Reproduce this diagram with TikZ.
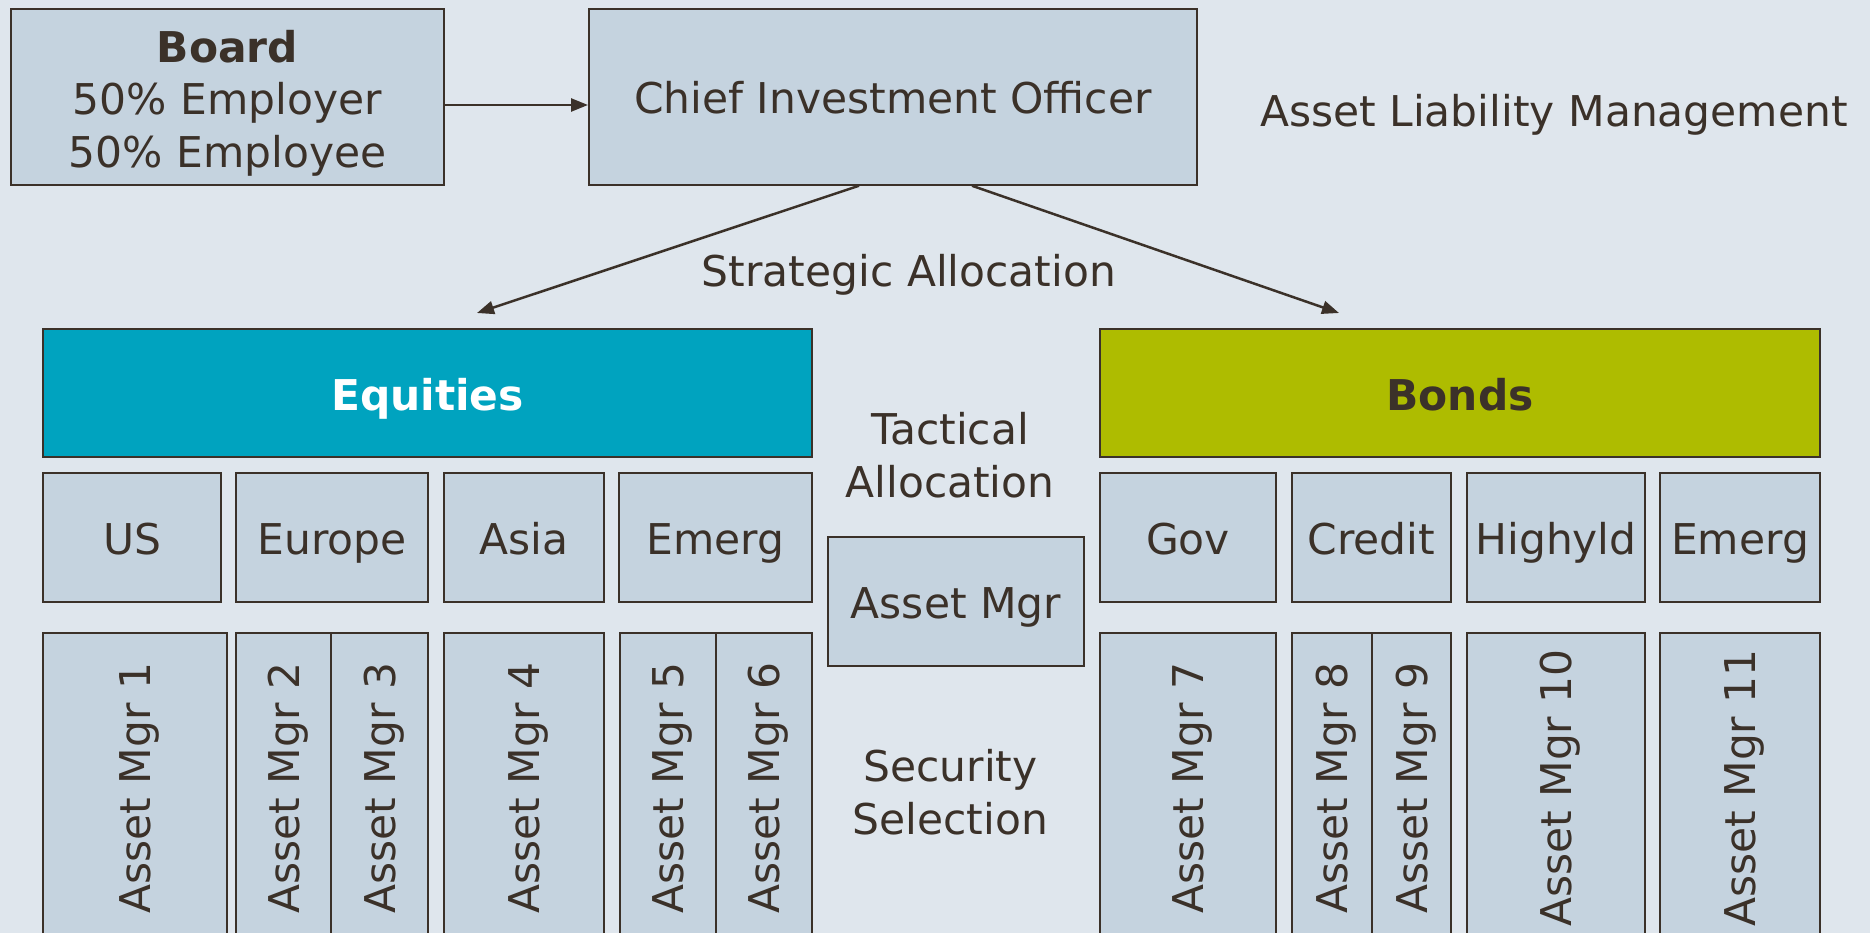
\documentclass[tikz,border=0pt]{standalone}
\usepackage{fontspec}
\setmainfont{DejaVu Sans}
\usetikzlibrary{arrows.meta}
\definecolor{bgc}{HTML}{DFE6ED}
\definecolor{boxc}{HTML}{C5D3DF}
\definecolor{inkc}{HTML}{3B3129}
\definecolor{eqc}{HTML}{00A3BF}
\definecolor{bdc}{HTML}{AEBC00}
% upright text turned a quarter turn, centred on its capitals
\newcommand{\uptext}[1]{\rotatebox{90}{\raisebox{0pt}[\height][0pt]{#1}}}
\begin{document}
\begin{tikzpicture}[x=1pt,y=-1pt,
  every node/.style={text=inkc, font=\fontsize{42.4}{52.5}\selectfont},
  box/.style={draw=inkc, line width=2pt, fill=boxc, inner sep=0pt, align=center},
  onebox/.style={box, text height=34pt, text depth=0pt},
  mgrbox/.style={box, minimum height=310pt},
  rowbox/.style={onebox, minimum height=129pt},
  label/.style={align=center, inner sep=0pt},
  link/.style={draw=inkc, line width=2.5pt, -{Triangle[length=17pt,width=13pt]}}]
  % canvas
  \clip (0,0) rectangle (1870,933);
  \fill[bgc] (0,0) rectangle (1870,933);

  % top level
  \node[box, minimum width=433pt, minimum height=175.5pt] (board) at (227.5,97) {};
  \node[label] (boardtxt) at ([yshift=-6pt]board.center)
    {\textbf{Board}\\50\% Employer\\50\% Employee};
  \node[onebox, minimum width=608pt, minimum height=175.5pt] (cio) at (893,97)
    {Chief Investment Officer};
  \node[label, text height=34pt, text depth=0pt] (alm) at (1554,110) {Asset Liability Management};
  \node[label, text height=34pt, text depth=0pt] (strat) at (909,270) {Strategic Allocation};

  % asset classes
  \node[onebox, fill=eqc, text=white, minimum width=769pt, minimum height=128pt] (eq) at (427.5,393)
    {\textbf{Equities}};
  \node[onebox, fill=bdc, minimum width=720pt, minimum height=128pt] (bd) at (1460,393)
    {\textbf{Bonds}};

  % regions / segments
  \node[rowbox, minimum width=178pt] (us)   at (132,537.5)    {US};
  \node[rowbox, minimum width=192pt] (eu)   at (332,537.5)    {Europe};
  \node[rowbox, minimum width=160pt] (as)   at (524,537.5)    {Asia};
  \node[rowbox, minimum width=193pt] (eme)  at (715.5,537.5)  {Emerg};
  \node[rowbox, minimum width=176pt] (gov)  at (1188,537.5)   {Gov};
  \node[rowbox, minimum width=159pt] (cred) at (1371.5,537.5) {Credit};
  \node[rowbox, minimum width=178pt] (hy)   at (1556,537.5)   {Highyld};
  \node[rowbox, minimum width=160pt] (emb)  at (1740,537.5)   {Emerg};

  % middle column
  \node[label] (tact) at (950,455) {Tactical\\Allocation};
  \node[onebox, minimum width=256pt, minimum height=129pt] (amgr) at (956,601.5) {Asset Mgr};
  \node[label] (sec) at (950.5,792) {Security\\Selection};

  % managers
  \node[mgrbox, minimum width=184pt] (m1)  at (135,788)    {\uptext{Asset Mgr 1}};
  \node[mgrbox, minimum width=95pt]  (m2)  at (283.5,788)  {\uptext{Asset Mgr 2}};
  \node[mgrbox, minimum width=97pt]  (m3)  at (379.5,788)  {\uptext{Asset Mgr 3}};
  \node[mgrbox, minimum width=160pt] (m4)  at (524,788)    {\uptext{Asset Mgr 4}};
  \node[mgrbox, minimum width=96pt]  (m5)  at (668,788)    {\uptext{Asset Mgr 5}};
  \node[mgrbox, minimum width=96pt]  (m6)  at (764,788)    {\uptext{Asset Mgr 6}};
  \node[mgrbox, minimum width=176pt] (m7)  at (1188,788)   {\uptext{Asset Mgr 7}};
  \node[mgrbox, minimum width=80pt]  (m8)  at (1332,788)   {\uptext{Asset Mgr 8}};
  \node[mgrbox, minimum width=79pt]  (m9)  at (1411.5,788) {\uptext{Asset Mgr 9}};
  \node[mgrbox, minimum width=178pt] (m10) at (1556,788)   {\uptext{Asset Mgr 10}};
  \node[mgrbox, minimum width=160pt] (m11) at (1740,788)   {\uptext{Asset Mgr 11}};

  % connectors
  \coordinate (eqtip) at (477,313);
  \coordinate (bdtip) at (1339,313);
  \draw[link] ([yshift=-8pt]board.east) -- ([yshift=-8pt]cio.west);
  \draw[link] ([xshift=-34pt]cio.south) -- (eqtip);
  \draw[link] ([xshift=79pt]cio.south) -- (bdtip);
\end{tikzpicture}
\end{document}
